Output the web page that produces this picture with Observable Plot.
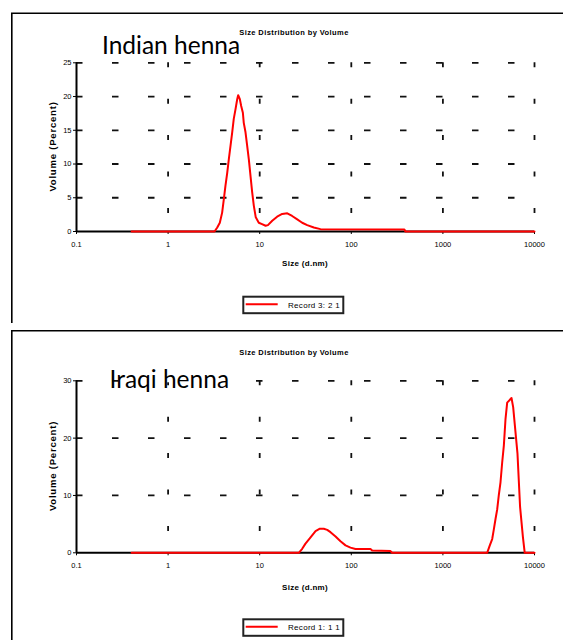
<!DOCTYPE html>
<html>
<head>
<meta charset="utf-8">
<script src="https://cdn.jsdelivr.net/npm/d3@7"></script>
<script src="https://cdn.jsdelivr.net/npm/@observablehq/plot@0.6"></script>
<style>
  html, body { margin: 0; padding: 0; background: #fff; }
  body { width: 563px; height: 640px; position: relative; overflow: hidden; font-family: Arial, "Liberation Sans", sans-serif; }
  .chart { position: absolute; left: 0; }
  #overlay { position: absolute; left: 0; top: 0; pointer-events: none; }
</style>
</head>
<body>
<div id="top" class="chart" style="top:0px"></div>
<div id="bottom" class="chart" style="top:320px"></div>
<svg id="overlay" width="563" height="640"></svg>
<script>
// ---- data ----
const xTickValues = [0.1, 1, 10, 100, 1000, 10000];
const xTickLabels = ["0.1", "1", "10", "100", "1000", "10000"];
const xGridValues = [1, 10, 100, 1000, 10000];
const indianYTicks = [0, 5, 10, 15, 20, 25];
const iraqiYTicks = [0, 10, 20, 30];

// Indian henna (Record 3: 2 1) size d.nm / volume %
const indianSize   = [0.4, 3.21, 3.44, 3.67, 3.89, 4.06, 4.23, 4.42, 4.60, 4.80, 5.01, 5.21, 5.44, 5.68, 5.82, 6.07, 6.28, 6.55, 6.70, 7.00, 7.30, 7.61, 7.94, 8.28, 8.63, 9.06, 9.77, 10.6, 11.6, 12.3, 13.7, 15.5, 17.6, 20.0, 22.6, 25.7, 29.1, 33.0, 39.0, 46.1, 380, 390, 10000];
const indianVolume = [0,   0,    0.6,  1.3,  2.8,  4.8,  6.8,  8.7,  10.7, 12.7, 14.7, 16.7, 18.1, 19.6, 20.2, 19.6, 18.6, 17.6, 16.1, 14.7, 12.7, 10.7, 8.2,  5.8,  3.8,  2.1,  1.3,  1.1,  0.85, 0.95, 1.6,  2.2,  2.6,  2.7,  2.3,  1.8,  1.3,  0.95, 0.6,  0.35, 0.3, 0,   0];

// Iraqi henna (Record 1: 1 1)
const iraqiSize   = [0.4, 26.7, 29.1, 31.6, 35.9, 40.7, 45.4, 50.1, 54.6, 59.3, 67.3, 76.2, 86.5, 98, 111, 162, 169, 268, 279, 3042, 3252, 3453, 3598, 3753, 3918, 4074, 4254, 4440, 4627, 4823, 5032, 5610, 5850, 6520, 6960, 7480, 7820, 10000];
const iraqiVolume = [0,   0,    0.7,  1.6,  2.7,  3.8,  4.2,  4.2,  4.0,  3.6,  2.85, 2.0,  1.3,  0.9, 0.65, 0.65, 0.4, 0.3, 0,  0,    1.3,  2.4,  4.1,  5.9,  7.6,  10.0, 12.3, 15.8, 18.7, 23.3, 26.2, 27.0, 25.4, 17.3, 8.0,  2.7,  0,    0];

const chartTitle = "Size Distribution by Volume";
const xTitle = "Size (d.nm)";
const yTitle = "Volume (Percent)";

function chart(sizes, vols, yTicks, yMax, mTop, mBottom) {
  const data = sizes.map((s, i) => ({size: s, volume: vols[i]}));
  return Plot.plot({
    width: 563, height: 320,
    marginLeft: 76, marginRight: 29, marginTop: mTop, marginBottom: mBottom,
    x: {type: "log", domain: [0.1, 10000]},
    y: {domain: [0, yMax]},
    style: {background: "transparent", fontFamily: "Arial, 'Liberation Sans', sans-serif", fontSize: "7.5px", color: "#000", overflow: "visible"},
    marks: [
      Plot.ruleY(yTicks.filter(d => d > 0), {stroke: "#111", strokeWidth: 1.8, strokeDasharray: "6.5,29.5"}),
      Plot.ruleX(xGridValues, {stroke: "#111", strokeWidth: 1.8, strokeDasharray: "5,31.4"}),
      Plot.axisX({ticks: xTickValues, tickFormat: d => xTickLabels[xTickValues.indexOf(d)], tickSize: 3, tickPadding: 7, label: null}),
      Plot.axisY({ticks: yTicks, tickSize: 3, tickPadding: 2, label: null}),
      Plot.ruleY([0], {stroke: "#000", strokeWidth: 2}),
      Plot.ruleX([0.1], {stroke: "#000", strokeWidth: 2}),
      Plot.line(data, {x: "size", y: "volume", stroke: "#ff0000", strokeWidth: 2})
    ]
  });
}

document.getElementById("top").appendChild(chart(indianSize, indianVolume, indianYTicks, 25, 62.3, 89));
document.getElementById("bottom").appendChild(chart(iraqiSize, iraqiVolume, iraqiYTicks, 30, 60.3, 87.7));

// ---- annotations: panel frames, titles, legends ----
const ov = d3.select("#overlay");
const sans = "Arial, 'Liberation Sans', sans-serif";
const panels = [
  {y0: 0, frameTop: 13.3, frameBottom: 323, name: "Indian henna", nameX: 102, nameY: 54, legend: "Record 3: 2 1", mask: false},
  {y0: 320, frameTop: 330.7, frameBottom: 660, name: "Iraqi henna", nameX: 109.5, nameY: 387.7, legend: "Record 1: 1 1", mask: true}
];
panels.forEach(p => {
  ov.append("path").attr("d", `M11.8,${p.frameBottom}V${p.frameTop}H570`).attr("fill", "none").attr("stroke", "#000").attr("stroke-width", 1.6);
  ov.append("text").attr("x", 294).attr("y", p.y0 + 34.5).attr("text-anchor", "middle")
    .attr("font-size", 7.5).attr("font-weight", "bold").attr("letter-spacing", 0.4).attr("font-family", sans).text(chartTitle);
  if (p.mask) {
    // the label's box hides the top gridline behind the words
    ov.append("rect").attr("x", 119).attr("y", 378.3).attr("width", 125).attr("height", 4).attr("fill", "#fff");
  }
  ov.append("text").attr("x", p.nameX).attr("y", p.nameY)
    .attr("font-size", 24.5).attr("font-family", "Lato, 'Open Sans', sans-serif").attr("fill", "#000").text(p.name);
  ov.append("text").attr("transform", `translate(52.5,${p.y0 + (p.y0 ? 146 : 146.5)}) rotate(-90)`)
    .attr("text-anchor", "middle").attr("dominant-baseline", "central")
    .attr("font-size", 9.5).attr("font-weight", "bold").attr("letter-spacing", 0.8).attr("font-family", sans).text(yTitle);
  ov.append("text").attr("x", 305).attr("y", p.y0 + (p.y0 ? 270 : 266.3)).attr("text-anchor", "middle")
    .attr("font-size", 8).attr("font-weight", "bold").attr("letter-spacing", 0.3).attr("font-family", sans).text(xTitle);
  const ly = p.y0 + (p.y0 ? 299.3 : 296.7);
  ov.append("rect").attr("x", 243.3).attr("y", ly).attr("width", 100).attr("height", 16.5)
    .attr("fill", "#fff").attr("stroke", "#222").attr("stroke-width", 2);
  ov.append("line").attr("x1", 245.7).attr("x2", 277.7).attr("y1", ly + 7.5).attr("y2", ly + 7.5)
    .attr("stroke", "#ff0000").attr("stroke-width", 2);
  ov.append("text").attr("x", 288).attr("y", ly + 11).attr("font-size", 8).attr("letter-spacing", 0.3)
    .attr("font-family", sans).text(p.legend);
});
</script>
</body>
</html>
